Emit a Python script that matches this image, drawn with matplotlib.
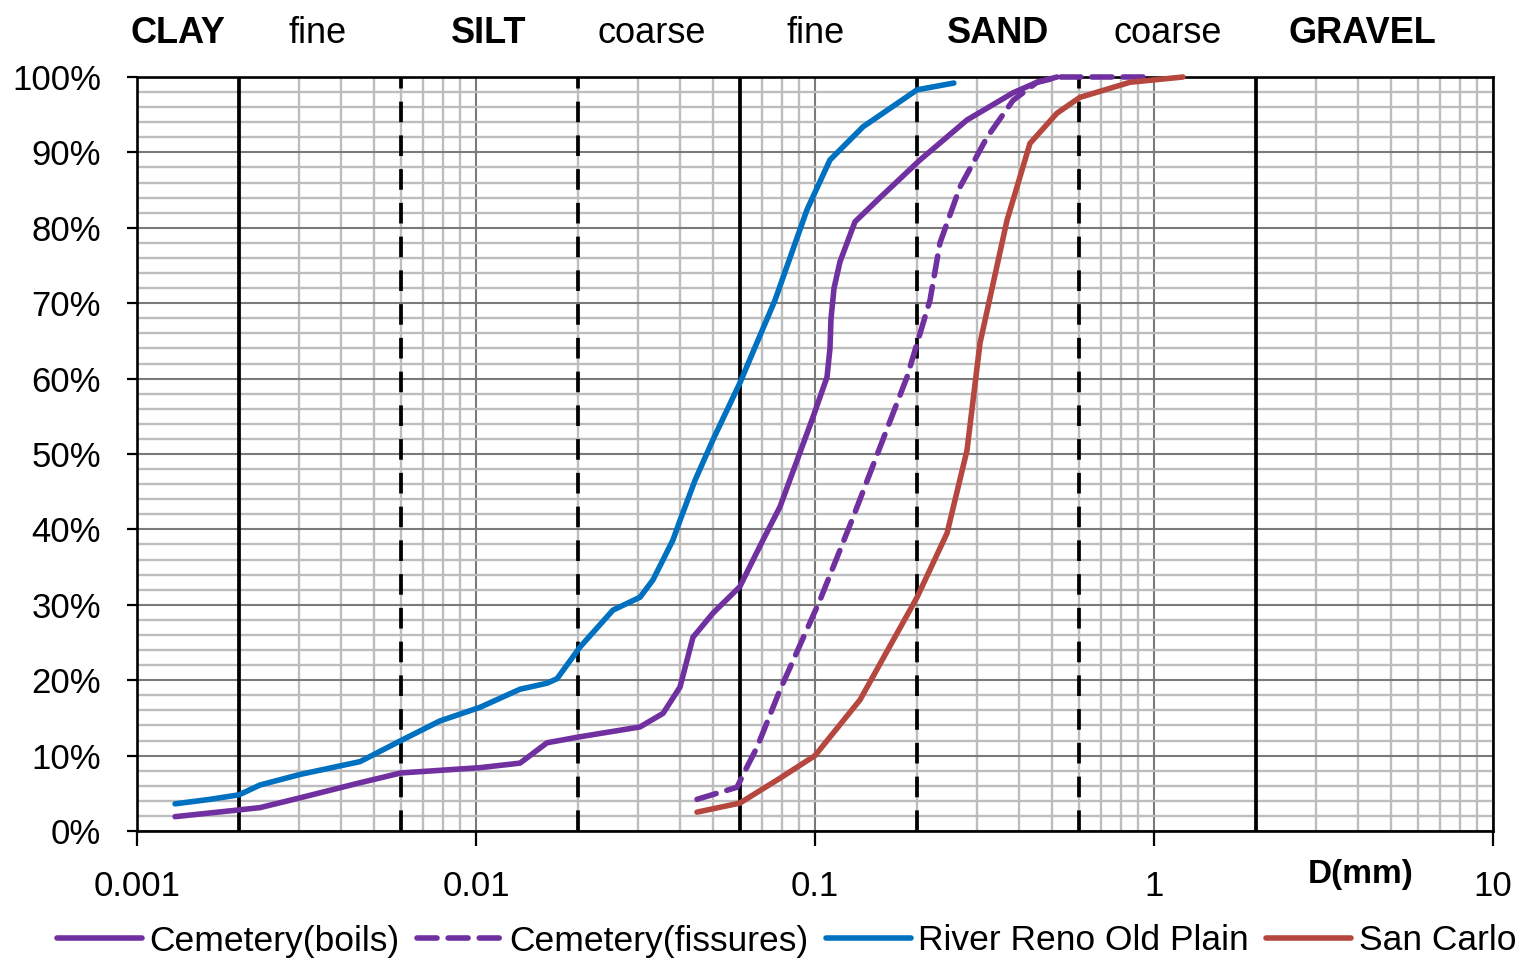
import matplotlib
matplotlib.use("Agg")
import matplotlib.pyplot as plt
import matplotlib.ticker as mticker
import matplotlib.transforms as mtransforms

plt.rcParams['font.family'] = ['Liberation Sans', 'DejaVu Sans']

# ---------------- data ----------------
boils_d = [0.001295, 0.002, 0.002306, 0.003026, 0.004548, 0.006009, 0.01027, 0.01348,
           0.01620, 0.02027, 0.03046, 0.03562, 0.03998, 0.04366, 0.05002, 0.06,
           0.07025, 0.07884, 0.09865, 0.1085, 0.1107, 0.1115, 0.1138, 0.1185,
           0.1312, 0.1555, 0.2041, 0.2808, 0.3838, 0.4517, 0.5174]
boils_p = [1.9, 2.8, 3.1, 4.4, 6.4, 7.7, 8.4, 9.0,
           11.7, 12.5, 13.8, 15.6, 19.1, 25.7, 28.9, 32.4,
           38.6, 43.0, 54.9, 60.2, 64.0, 68.0, 72.0, 75.5,
           80.8, 84.0, 89.0, 94.3, 97.9, 99.3, 100.0]

fiss_d = [0.04487, 0.05887, 0.06301, 0.06745, 0.07884, 0.1034, 0.1295, 0.1555,
          0.1868, 0.2184, 0.2337, 0.2677, 0.3217, 0.3838, 0.4517, 0.5245, 0.973]
fiss_p = [4.2, 5.8, 8.5, 11.1, 18.7, 30.6, 41.6, 50.9,
          60.2, 70.4, 78.0, 85.4, 92.0, 96.9, 99.3, 100.0, 100.0]

reno_d = [0.001295, 0.001642, 0.002, 0.002306, 0.003026, 0.004548, 0.006009, 0.00783,
          0.01027, 0.01348, 0.01620, 0.01734, 0.02027, 0.02536, 0.03046, 0.03327,
          0.03811, 0.03998, 0.04426, 0.05002, 0.06, 0.07621, 0.09471, 0.1107,
          0.1386, 0.2, 0.2568]
reno_p = [3.6, 4.2, 4.8, 6.1, 7.5, 9.2, 12.0, 14.6,
          16.4, 18.8, 19.6, 20.2, 24.4, 29.3, 31.0, 33.3,
          38.6, 41.2, 46.5, 51.9, 59.4, 70.4, 82.4, 89.0,
          93.4, 98.3, 99.2]

carlo_d = [0.04487, 0.06, 0.07884, 0.1, 0.1358, 0.2, 0.2452, 0.2808,
           0.3067, 0.3685, 0.4307, 0.5174, 0.6047, 0.8496, 1.217]
carlo_p = [2.5, 3.7, 7.0, 10.0, 17.4, 31.0, 39.5, 50.5,
           64.7, 81.0, 91.2, 95.2, 97.3, 99.3, 100.0]

series_names = ["Cemetery(boils)", "Cemetery(fissures)", "River Reno Old Plain", "San Carlo"]

# class boundaries (mm)
solid_bounds = [0.002, 0.06, 2]
dashed_bounds = [0.006, 0.02, 0.2, 0.6]

# header labels
header_labels = ["CLAY", "fine", "SILT", "coarse", "fine", "SAND", "coarse", "GRAVEL"]
header_bold = [True, False, True, False, False, True, False, True]
header_x = [0.00132, 0.00342, 0.01092, 0.03304, 0.1007, 0.3465, 1.10, 4.108]

xtick_vals = [0.001, 0.01, 0.1, 1, 10]
xtick_labels = ["0.001", "0.01", "0.1", "1", "10"]
ytick_vals = list(range(0, 101, 10))

# ---------------- plot ----------------
W, H = 1526, 960
fig = plt.figure(figsize=(W / 100, H / 100), dpi=100)
ax = fig.add_axes([137 / W, 1 - 831 / H, (1493 - 137) / W, (831 - 77) / H])
ax.set_xscale('log')
ax.set_xlim(0.001, 10)
ax.set_ylim(0, 100)

ax.xaxis.set_major_locator(mticker.FixedLocator(xtick_vals))
ax.xaxis.set_major_formatter(mticker.FixedFormatter(xtick_labels))
ax.xaxis.set_minor_locator(mticker.LogLocator(base=10, subs=[2, 3, 4, 5, 6, 7, 8, 9], numticks=50))
ax.xaxis.set_minor_formatter(mticker.NullFormatter())
ax.yaxis.set_major_locator(mticker.FixedLocator(ytick_vals))
ax.yaxis.set_major_formatter(mticker.FuncFormatter(lambda v, p: f"{int(round(v))}%"))
ax.yaxis.set_minor_locator(mticker.MultipleLocator(2))

ax.grid(which='minor', axis='both', color='#BDBDBD', lw=1.7, zorder=0)
ax.grid(which='major', axis='both', color='#7A7A7A', lw=1.5, zorder=0)
ax.set_axisbelow(True)

ax.tick_params(which='minor', length=0)
ax.tick_params(axis='x', which='major', length=11, width=1.6, direction='out',
               labelsize=25, pad=17)
ax.tick_params(axis='y', which='major', length=7, width=1.6, direction='out',
               labelsize=25, pad=19)
for s in ax.spines.values():
    s.set_linewidth(1.9)
    s.set_color('black')

for b in solid_bounds:
    ax.axvline(b, color='black', lw=2.7, zorder=2)
for b in dashed_bounds:
    ax.axvline(b, color='black', lw=2.7, linestyle=(0, (5.5, 3.5)), zorder=2)

purple = '#7030A0'
blue = '#0070C0'
red = '#B5473F'
lw = 4.0
l1, = ax.plot(boils_d, boils_p, color=purple, lw=lw, solid_capstyle='round',
              solid_joinstyle='round', zorder=4)
l2, = ax.plot(fiss_d, fiss_p, color=purple, lw=lw, linestyle=(0, (3.6, 2.0)),
              dash_capstyle='round', dash_joinstyle='round', zorder=4)
l3, = ax.plot(reno_d, reno_p, color=blue, lw=lw, solid_capstyle='round',
              solid_joinstyle='round', zorder=4)
l4, = ax.plot(carlo_d, carlo_p, color=red, lw=lw, solid_capstyle='round',
              solid_joinstyle='round', zorder=4)
for l in (l1, l2, l3, l4):
    l.set_clip_on(False)

trans = mtransforms.blended_transform_factory(ax.transData, ax.transAxes)
for lab, bold, x in zip(header_labels, header_bold, header_x):
    ax.text(x, 1.058, lab, transform=trans, ha='center', va='center',
            fontsize=26, fontweight='bold' if bold else 'normal')

ax.text(4.06, -0.058, "D(mm)", transform=trans, ha='center', va='center',
        fontsize=24, fontweight='bold')

fig.legend([l1, l2, l3, l4], series_names, loc='center',
           bbox_to_anchor=(786.5 / W, 1 - 941 / H), ncol=4, frameon=False,
           fontsize=25.5, handlelength=2.4, handletextpad=0.2, columnspacing=0.5,
           borderaxespad=0, borderpad=0)

fig.savefig("out.png", dpi=100)
